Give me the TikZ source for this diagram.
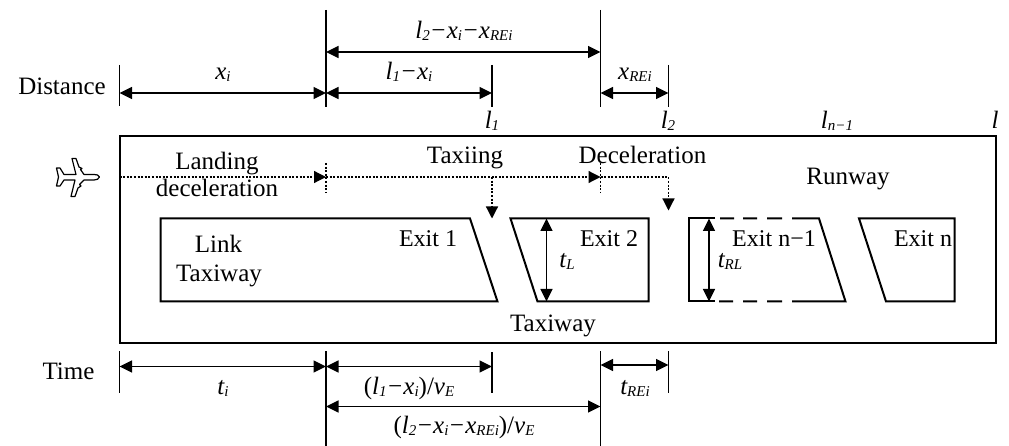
\documentclass[tikz,border=0pt]{standalone}
\usepackage{fontspec}
\setmainfont{Liberation Serif}
\usetikzlibrary{arrows.meta}
\newcommand{\subt}[1]{\raisebox{-0.08em}{\fontsize{15}{15}\selectfont\itshape #1}}
\newcommand{\upp}[1]{{\upshape #1}}
\tikzset{
  txt/.style={anchor=base,inner sep=0pt,font=\fontsize{25}{26}\selectfont},
  txtb/.style={anchor=base,inner sep=0pt,font=\fontsize{24}{26}\selectfont},
  mth/.style={anchor=base,inner sep=0pt,font=\fontsize{25}{26}\selectfont\itshape},
  tick/.style={line width=1.3pt},
  dim/.style={line width=1.3pt,{Triangle[length=12.5pt,width=12pt]}-{Triangle[length=12.5pt,width=12pt]}},
  box/.style={line width=2pt,line join=miter},
  dotline/.style={line width=1.2pt,dash pattern=on 2pt off 1.6pt},
  dothead/.style={dotline,-{Triangle[length=12pt,width=12pt]}}
}
\begin{document}
\begin{tikzpicture}[x=1pt,y=-1pt]
\useasboundingbox (0,0) rectangle (1009,446);
% named points of the distance scale
\coordinate (a1) at (119.5,65); \coordinate (a2) at (119.5,106);
\coordinate (b1) at (326,10);   \coordinate (b2) at (326,107);
\coordinate (c1) at (492,65);   \coordinate (c2) at (492,107);
\coordinate (d1) at (600.5,10); \coordinate (d2) at (600.5,107);
\coordinate (e1) at (668.5,65); \coordinate (e2) at (668.5,107);
\draw[tick] (a1)--(a2); \draw[tick] (b1)--(b2); \draw[tick] (c1)--(c2);
\draw[tick] (d1)--(d2); \draw[tick] (e1)--(e2);
\coordinate (da) at (119.5,93); \coordinate (db) at (326,93); \coordinate (dc) at (492,93);
\coordinate (dd) at (600.5,93); \coordinate (de) at (668.5,93);
\coordinate (ub) at (326,52); \coordinate (ud) at (600.5,52);
\draw[dim] (da)--(db); \draw[dim] (db)--(dc); \draw[dim] (dd)--(de); \draw[dim] (ub)--(ud);
% time scale
\coordinate (ta1) at (119.5,351); \coordinate (ta2) at (119.5,393);
\coordinate (tb1) at (326,351);   \coordinate (tb2) at (326,446);
\coordinate (tc1) at (492,352);   \coordinate (tc2) at (492,393);
\coordinate (td1) at (600.5,351); \coordinate (td2) at (600.5,446);
\coordinate (te1) at (668.5,351); \coordinate (te2) at (668.5,393);
\draw[tick] (ta1)--(ta2); \draw[tick] (tb1)--(tb2); \draw[tick] (tc1)--(tc2);
\draw[tick] (td1)--(td2); \draw[tick] (te1)--(te2);
\coordinate (qa) at (119.5,366.5); \coordinate (qb) at (326,366.5); \coordinate (qc) at (492,366.5);
\coordinate (qd) at (600.5,365); \coordinate (qe) at (668.5,365);
\coordinate (pb) at (326,406.5); \coordinate (pd) at (600.5,406.5);
\draw[dim] (qa)--(qb); \draw[dim] (qb)--(qc); \draw[dim] (qd)--(qe); \draw[dim] (pb)--(pd);
% runway
\draw[box] (119.5,136) rectangle (995.5,343);
% link taxiway + exits
\draw[box] (160.5,218.5) -- (470,218.5) -- (497.5,301.5) -- (160.5,301.5) -- cycle;
\draw[box] (510.5,218.5) -- (648.5,218.5) -- (648.5,301.5) -- (537.5,301.5) -- cycle;
\draw[box] (715,218.5) -- (688.5,218.5) -- (688.5,301.5) -- (715,301.5);
\draw[box] (720,218.5)--(734,218.5) (743,218.5)--(757,218.5) (767,218.5)--(782,218.5) (792,218.5)--(819,218.5) -- (845.5,301.5) -- (792,301.5) (782,301.5)--(767,301.5) (757,301.5)--(743,301.5) (733,301.5)--(719,301.5);
\draw[box] (859,218.5) -- (954.5,218.5) -- (954.5,301.5) -- (886,301.5) -- cycle;
\coordinate (tl1) at (546.5,218.5); \coordinate (tl2) at (546.5,301.5);
\coordinate (tr1) at (709,218.5);   \coordinate (tr2) at (709,301.5);
\draw[dim] (tl1)--(tl2); \draw[dim] (tr1)--(tr2);
% dotted path
\coordinate (p0) at (119.5,177); \coordinate (p1) at (326,177); \coordinate (p2) at (600.5,177);
\coordinate (p3) at (668.5,177); \coordinate (p4) at (668.5,210.5); \coordinate (p5) at (492,177); \coordinate (p6) at (492,218.5);
\coordinate (m1) at (326,163); \coordinate (m2) at (326,192); \coordinate (m3) at (600.5,163); \coordinate (m4) at (600.5,192);
\draw[dothead] (p0)--(p1); \draw[dothead] (p1)--(p2); \draw[dothead] (p2)--(p3)--(p4); \draw[dothead] (p5)--(p6);
\draw[dotline] (m1)--(m2); \draw[dotline] (m3)--(m4);
% airplane
\draw[line width=1.2pt,line join=round,fill=white]
 (99.5,177) .. controls (98.5,175) and (97,174.5) .. (94,174.5) -- (84,174.5)
 -- (80.5,169.5) -- (82,168.5) -- (79,167) -- (76,158.5) -- (72,158.5) -- (76,174.5)
 -- (64,174.5) -- (60,168) -- (56.5,168) -- (58.5,177) -- (56.5,186) -- (60,186) -- (64,180)
 -- (75,180) -- (71,196.5) -- (75,196.5) -- (78,188) -- (81,186) -- (79.5,184.5) -- (84,180)
 -- (94,180) .. controls (97,180) and (98.5,179) .. (99.5,177) -- cycle;
% labels
\node[txt] (lDist) at (62,95) {Distance};
\node[txt] (lTime) at (68.5,379) {Time};
\node[mth] (lxi) at (223,80) {x\subt{i}};
\node[mth] (lloi) at (409,80) {l\subt{1}−x\subt{i}};
\node[mth] (lltx) at (464,39) {l\subt{2}−x\subt{i}−x\subt{REi}};
\node[mth] (lxre) at (635,80) {x\subt{REi}};
\node[mth] (ll1) at (492,129) {l\subt{1}};
\node[mth] (ll2) at (668,129) {l\subt{2}};
\node[mth] (lln) at (837,129) {l\subt{n−1}};
\node[mth] (ll) at (995,129) {l};
\node[txt] (lLand) at (217,169.5) {Landing};
\node[txt] (lDec) at (217,197) {deceleration};
\node[txt] (lTax) at (465,164) {Taxiing};
\node[txt] (lDecel) at (642.5,164) {Deceleration};
\node[txt] (lRun) at (848,185) {Runway};
\node[txt] (lLink) at (218.5,253) {Link};
\node[txt] (lLT) at (219,282) {Taxiway};
\node[txtb] (lE1) at (428,247) {Exit 1};
\node[txtb] (lE2) at (609,247) {Exit 2};
\node[txtb] (lE3) at (774,247) {Exit n−1};
\node[txtb] (lE4) at (923,247) {Exit n};
\node[txt] (lTw) at (553,331) {Taxiway};
\node[mth] (ltl) at (567,268) {t\subt{L}};
\node[mth] (ltr) at (730,268) {t\subt{RL}};
\node[mth] (lti) at (223,394) {t\subt{i}};
\node[mth] (lq1) at (409,394) {\upp{(}l\subt{1}−x\subt{i}\upp{)/}v\subt{E}};
\node[mth] (lq2) at (464,433) {\upp{(}l\subt{2}−x\subt{i}−x\subt{REi}\upp{)/}v\subt{E}};
\node[mth] (ltre) at (635,394) {t\subt{REi}};
\end{tikzpicture}
\end{document}
